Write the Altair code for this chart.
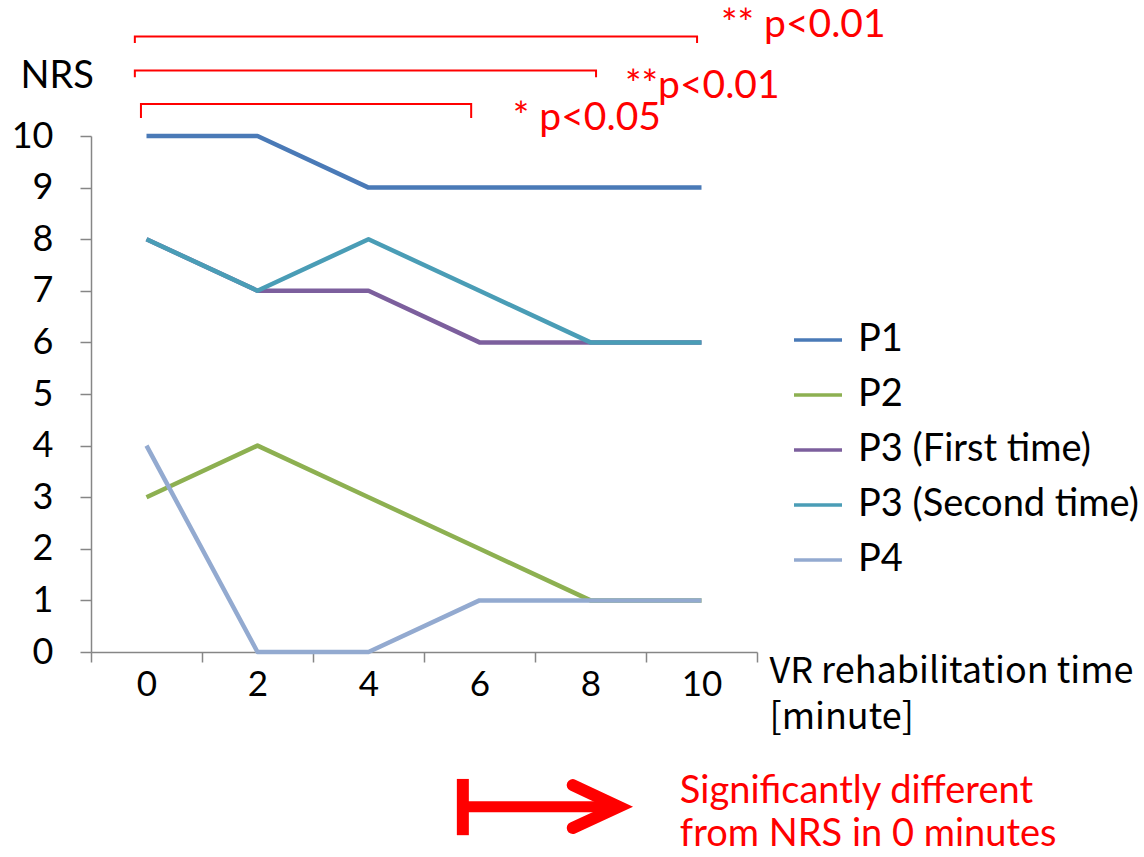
import altair as alt
import pandas as pd

# ---- data ----
times = [0, 2, 4, 6, 8, 10]
series_names = ["P1", "P2", "P3 (First time)", "P3 (Second time)", "P4"]
p1 = [10, 10, 9, 9, 9, 9]
p2 = [3, 4, 3, 2, 1, 1]
p3_first = [8, 7, 7, 6, 6, 6]
p3_second = [8, 7, 8, 7, 6, 6]
p4 = [4, 0, 0, 1, 1, 1]
series_colors = ["#4A7AB7", "#8DB051", "#7C5F9D", "#4A9DB6", "#93AAD0"]

# significance brackets (data units)
br_labels = ["** p<0.01", "**p<0.01", "* p<0.05"]
br_x0 = [-0.21, -0.21, -0.10]
br_x1 = [9.92, 8.10, 5.85]
br_y = [11.93, 11.27, 10.62]
br_leg = [11.80, 11.14, 10.35]
lab_x = [10.35, 8.62, 6.60]
lab_y = [11.92, 10.74, 10.12]

# key arrow (data units)
key_bar_x = 5.70
key_bar_y = [-2.46, -3.55]
key_shaft_x = [5.70, 8.39]
key_shaft_y = -3.00
key_head_x = [7.68, 8.51, 7.68]
key_head_y = [-2.58, -3.00, -3.41]
key_text = ["Significantly different", "from NRS in 0 minutes"]
key_text_x = 9.61
key_text_y = [-2.93, -3.76]

FONT = "Lato"
RED = "#FF0000"

rows = []
for name, vals in zip(series_names, [p1, p2, p3_first, p3_second, p4]):
    for t, v in zip(times, vals):
        rows.append({"x": t, "y": v, "series": name})
df = pd.DataFrame(rows)

xscale = alt.Scale(domain=[-1, 11], nice=False, zero=False)
yscale = alt.Scale(domain=[0, 10], nice=False, zero=False)

xaxis = alt.Axis(
    values=list(range(-1, 12)),
    labelExpr="abs(datum.value) % 2 == 0 ? datum.label : ''",
    tickOpacity={"condition": {"test": "abs(datum.value) % 2 == 1", "value": 1}, "value": 0},
    labelOverlap=False, labelFlush=False,
    grid=False, domainColor="#868686", tickColor="#868686", domainWidth=1.5, tickWidth=1.5,
    tickSize=10, labelFont=FONT, labelFontSize=35, labelColor="black", labelPadding=5,
    title=["VR rehabilitation time", "[minute]"], titleFont="Noto Sans CJK JP",
    titleFontSize=36, titleFontWeight="normal", titleColor="black",
    titleAlign="left", titleAnchor="start", titleBaseline="alphabetic",
    titleX=678, titleY=30, titleLineHeight=46,
)
yaxis = alt.Axis(
    values=list(range(0, 11)), grid=False, domainColor="#868686", tickColor="#868686",
    domainWidth=1.5, tickWidth=1.5, tickSize=11, labelFont=FONT, labelFontSize=36,
    labelColor="black", labelPadding=27,
    title="NRS", titleFont=FONT, titleFontSize=38, titleFontWeight="normal",
    titleColor="black", titleAngle=0, titleAlign="left", titleBaseline="alphabetic",
    titleX=-71, titleY=-49,
)

X = alt.X("x:Q", scale=xscale, axis=xaxis)
Y = alt.Y("y:Q", scale=yscale, axis=yaxis)

lines = alt.Chart(df).mark_line(strokeWidth=4.5, strokeJoin="round").encode(
    x=X,
    y=Y,
    color=alt.Color(
        "series:N",
        scale=alt.Scale(domain=series_names, range=series_colors),
        sort=series_names,
        legend=alt.Legend(
            orient="none", legendX=701, legendY=178, title=None,
            symbolType="stroke", symbolSize=2304, symbolStrokeWidth=3.5,
            labelFont=FONT, labelFontSize=38, labelColor="black", labelOffset=14,
            rowPadding=10, labelLimit=500,
        ),
    ),
    order=alt.Order("x:Q"),
)

# brackets
brows = []
for i in range(len(br_labels)):
    pts = [(br_x0[i], br_leg[i]), (br_x0[i], br_y[i]), (br_x1[i], br_y[i]), (br_x1[i], br_leg[i])]
    for k, (bx, by) in enumerate(pts):
        brows.append({"x": bx, "y": by, "b": i, "k": k})
bdf = pd.DataFrame(brows)
brackets = alt.Chart(bdf).mark_line(color=RED, strokeWidth=2, strokeJoin="miter").encode(
    x=X, y=Y, detail="b:N", order="k:Q",
)

ldf = pd.DataFrame({"x": lab_x, "y": lab_y, "t": br_labels})
blabels = alt.Chart(ldf).mark_text(
    color=RED, font=FONT, fontSize=39, align="left", baseline="alphabetic"
).encode(x=X, y=Y, text="t:N")

# key arrow
kbar = alt.Chart(pd.DataFrame({"x": [key_bar_x], "y": [key_bar_y[0]], "y2": [key_bar_y[1]]})).mark_rule(
    color=RED, strokeWidth=12
).encode(x=X, y=Y, y2="y2:Q")
kshaft = alt.Chart(pd.DataFrame({"x": [key_shaft_x[0]], "x2": [key_shaft_x[1]], "y": [key_shaft_y]})).mark_rule(
    color=RED, strokeWidth=11
).encode(x=X, x2="x2:Q", y=Y)
khead = alt.Chart(pd.DataFrame({"x": key_head_x, "y": key_head_y, "k": [0, 1, 2]})).mark_line(
    color=RED, strokeWidth=12, strokeCap="round", strokeJoin="miter"
).encode(x=X, y=Y, order="k:Q")
ktext = alt.Chart(pd.DataFrame({"x": [key_text_x] * 2, "y": key_text_y, "t": key_text})).mark_text(
    color=RED, font=FONT, fontSize=38, align="left", baseline="alphabetic"
).encode(x=X, y=Y, text="t:N")

chart = alt.layer(lines, brackets, blabels, kbar, kshaft, khead, ktext).properties(
    width=666, height=516,
    autosize=alt.AutoSizeParams(type="none"),
    padding={"left": 91, "top": 136, "right": 387, "bottom": 205},
    background="white",
).configure_view(stroke=None)

chart.save("out.html", embed_options={"renderer": "svg", "actions": False})
